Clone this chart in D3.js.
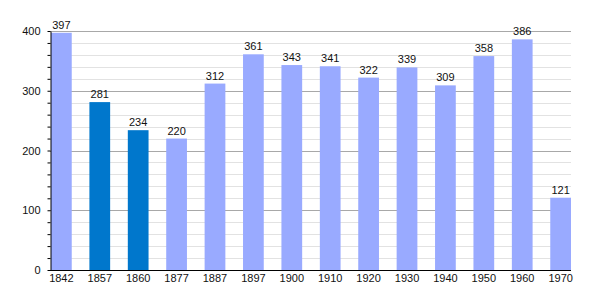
<!DOCTYPE html>
<html>
<head>
<meta charset="utf-8">
<script src="https://cdn.jsdelivr.net/npm/d3@7"></script>
<style>
	body { margin: 0; background: #fff; }
	text { font-family: "Liberation Sans", Arial, sans-serif; }
</style>
</head>
<body>
<div id="chart"></div>
<script>
var years = ["1842", "1857", "1860", "1877", "1887", "1897", "1900", "1910", "1920", "1930", "1940", "1950", "1960", "1970"];
var population = [397, 281, 234, 220, 312, 361, 343, 341, 322, 339, 309, 358, 386, 121];
var highlighted = ["1857", "1860"];
var yTicks = [0, 100, 200, 300, 400];

var width = 600, height = 300;
var marginLeft = 50, marginRight = 29, marginTop = 31, marginBottom = 30;

var svg = d3.select("#chart").append("svg")
	.attr("width", width)
	.attr("height", height);

var x = d3.scaleBand()
	.domain(years)
	.range([marginLeft + 1, width - marginRight])
	.paddingInner(0.46)
	.paddingOuter(0);

var y = d3.scaleLinear()
	.domain([0, 400])
	.range([height - marginBottom, marginTop]);

// minor grid
svg.append("g")
	.selectAll("line")
	.data(d3.range(20, 400, 20).filter(function (d) { return d % 100 != 0; }))
	.enter()
	.append("line")
	.attr("x1", marginLeft)
	.attr("x2", width - marginRight)
	.attr("y1", function (d) { return Math.round(y(d)) + 0.5; })
	.attr("y2", function (d) { return Math.round(y(d)) + 0.5; })
	.attr("stroke", "#e2e2e2");

// major grid
svg.append("g")
	.selectAll("line")
	.data(yTicks.slice(1))
	.enter()
	.append("line")
	.attr("x1", marginLeft)
	.attr("x2", width - marginRight)
	.attr("y1", function (d) { return Math.round(y(d)) + 0.5; })
	.attr("y2", function (d) { return Math.round(y(d)) + 0.5; })
	.attr("stroke", "#a8a8a8");

// bars
svg.append("g")
	.selectAll("rect")
	.data(years)
	.enter()
	.append("rect")
	.attr("x", function (d) { return x(d); })
	.attr("width", x.bandwidth())
	.attr("y", function (d, i) { return y(population[i]); })
	.attr("height", function (d, i) { return y(0) - y(population[i]); })
	.attr("fill", function (d) { return highlighted.includes(d) ? "#0077cc" : "#99aaff"; });

// value labels
svg.append("g")
	.selectAll("text")
	.data(years)
	.enter()
	.append("text")
	.attr("x", function (d) { return x(d) + x.bandwidth() / 2; })
	.attr("y", function (d, i) { return y(population[i]) - 4; })
	.attr("text-anchor", "middle")
	.attr("font-size", 11)
	.attr("fill", "#111")
	.text(function (d, i) { return population[i]; });

// y axis
var yAxis = svg.append("g")
	.attr("transform", "translate(" + (marginLeft + 0.5) + ",0)")
	.call(d3.axisLeft(y).tickValues(yTicks).tickSize(0).tickPadding(10));
yAxis.select(".domain").attr("stroke", "#000");
yAxis.selectAll("text").attr("font-size", 11).attr("fill", "#111")
	.style("font-family", "Liberation Sans, Arial, sans-serif");
svg.append("g")
	.attr("transform", "translate(" + (marginLeft + 0.5) + ",0)")
	.call(d3.axisLeft(y).tickValues(d3.range(0, 420, 20)).tickSize(3).tickFormat(""))
	.select(".domain").remove();

// x axis
var xAxis = svg.append("g")
	.attr("transform", "translate(0," + (y(0) + 0.5) + ")")
	.call(d3.axisBottom(x).tickSize(0).tickPadding(4).tickSizeOuter(0));
xAxis.select(".domain").attr("stroke", "#000").attr("d", "M" + marginLeft + ",0H" + (width - marginRight));
xAxis.selectAll("text").attr("font-size", 11).attr("fill", "#111")
	.style("font-family", "Liberation Sans, Arial, sans-serif");
</script>
</body>
</html>
